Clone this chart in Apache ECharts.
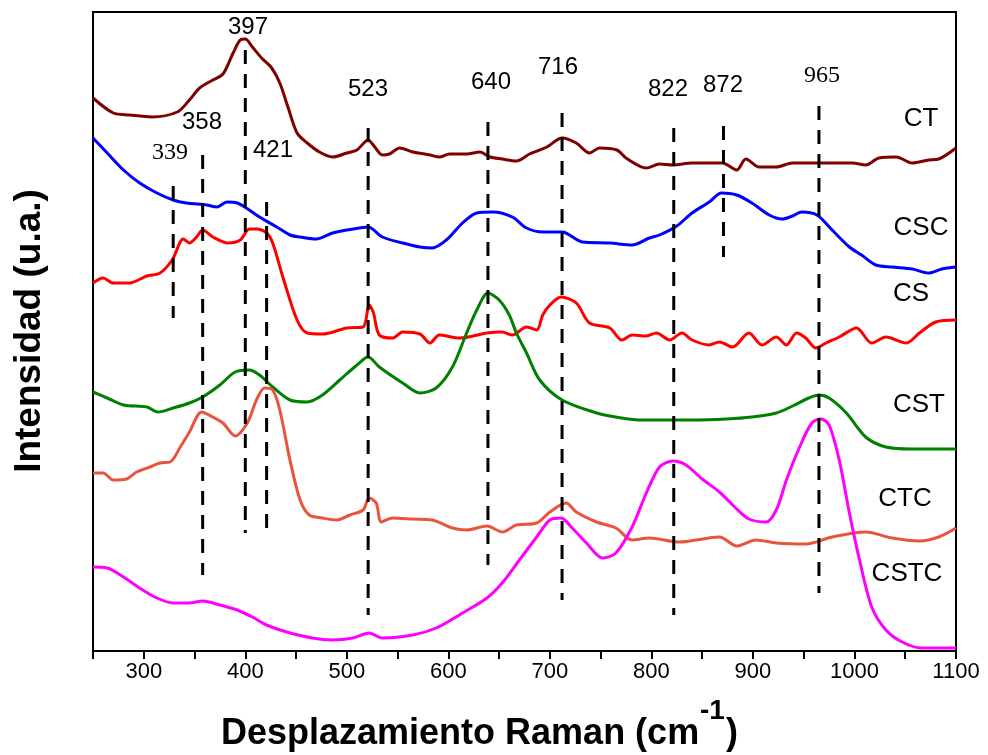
<!DOCTYPE html>
<html>
<head>
<meta charset="utf-8">
<style>html,body{margin:0;padding:0;background:#fff;}#c{width:988px;height:755px;}</style>
<script src="https://cdn.jsdelivr.net/npm/echarts@6/dist/echarts.min.js"></script>
</head>
<body>
<div id="c"></div>
<script>
// Raman shift (cm-1), intensity (a.u., stacked offsets)
var ctData = [[250,553],[270,538],[286,536],[308,534],[333,539],[345,551],[355,563],[368,571],[378,577],[388,598],[395,611],[400,612],[407,604],[416,593],[426,583],[434,568],[442,544],[451,518],[461,508],[473,499],[486,494],[500,498],[510,501],[521,511],[526,506],[532,498],[535,496],[542,497],[552,503],[565,499],[582,496],[591,494],[601,497],[618,497],[631,499],[641,494],[653,492],[667,490],[680,497],[697,504],[712,513],[726,508],[739,498],[749,503],[766,501],[775,493],[795,483],[808,487],[821,486],[840,488],[870,488],[884,481],[893,492],[906,484],[923,484],[939,488],[962,488],[978,488],[998,488],[1011,486],[1024,493],[1041,494],[1057,488],[1073,491],[1083,492],[1100,503]];
var cscData = [[250,513],[264,498],[280,481],[296,468],[313,458],[329,451],[342,448],[362,446],[372,444],[382,449],[392,448],[401,443],[414,434],[431,424],[444,416],[454,414],[470,412],[486,418],[506,422],[521,424],[535,414],[555,408],[572,404],[584,403],[598,411],[614,428],[628,438],[644,439],[663,434],[677,423],[693,419],[712,419],[732,409],[759,408],[781,406],[798,413],[808,416],[825,425],[840,438],[857,449],[869,458],[884,456],[899,448],[916,436],[929,432],[939,435],[948,439],[963,436],[978,421],[995,404],[1007,396],[1021,386],[1037,384],[1057,382],[1073,378],[1086,382],[1100,384]];
var csData = [[250,368],[260,373],[270,368],[286,368],[303,375],[316,378],[328,391],[339,412],[345,408],[352,414],[358,421],[368,414],[383,408],[395,411],[404,422],[411,422],[421,418],[427,408],[437,374],[451,331],[461,318],[476,317],[500,323],[516,324],[522,346],[526,339],[532,316],[545,313],[555,319],[572,317],[582,308],[591,316],[611,313],[638,318],[653,319],[663,316],[677,324],[687,321],[693,336],[700,346],[711,354],[726,348],[739,328],[759,323],[771,311],[781,316],[795,315],[805,318],[818,311],[830,318],[840,311],[857,306],[867,309],[880,304],[896,318],[909,306],[923,314],[933,306],[943,318],[952,313],[962,303],[972,308],[985,314],[1002,323],[1017,308],[1031,314],[1051,308],[1064,318],[1080,329],[1100,331]];
var cstData = [[250,259],[264,253],[280,246],[303,244],[314,239],[329,243],[345,248],[358,254],[375,266],[390,279],[404,281],[414,276],[427,264],[444,251],[461,249],[476,256],[493,271],[510,286],[521,294],[532,284],[555,268],[572,258],[588,263],[604,284],[618,318],[628,341],[639,358],[650,351],[660,336],[667,318],[677,298],[690,271],[712,251],[746,238],[765,234],[791,231],[818,231],[840,231],[874,232],[899,234],[923,238],[939,245],[955,253],[965,256],[975,253],[992,238],[1011,214],[1031,204],[1057,202],[1100,202]];
var ctcData = [[250,178],[260,178],[270,171],[283,172],[293,179],[306,184],[316,188],[326,189],[336,204],[345,219],[357,239],[368,234],[378,228],[390,215],[402,228],[411,251],[419,263],[427,261],[434,241],[444,191],[454,151],[463,136],[476,133],[490,131],[503,136],[516,141],[522,153],[529,148],[534,129],[545,133],[565,132],[584,131],[604,123],[618,121],[638,125],[653,119],[667,126],[687,128],[700,139],[716,148],[726,139],[746,129],[765,123],[781,111],[798,113],[827,109],[867,114],[884,105],[903,111],[923,108],[952,107],[978,114],[1011,119],[1037,113],[1064,110],[1083,114],[1100,123]];
var cstcData = [[250,84],[264,83],[280,74],[296,63],[313,53],[329,48],[345,48],[358,50],[375,46],[392,41],[407,34],[421,26],[441,19],[466,13],[486,11],[506,13],[522,18],[535,13],[565,16],[588,23],[614,38],[638,53],[653,68],[670,91],[687,114],[700,131],[711,133],[722,123],[736,108],[752,93],[765,98],[781,124],[795,158],[808,184],[821,190],[834,186],[850,172],[867,159],[883,143],[896,132],[913,129],[923,141],[933,171],[946,204],[958,228],[967,232],[975,226],[985,191],[995,138],[1005,91],[1017,44],[1031,21],[1047,9],[1066,3],[1100,3]];

var seriesNames = ['CT','CSC','CS','CST','CTC','CSTC'];
var seriesColors = ['#800000','#0000ff','#ff0000','#008000','#e8553c','#ff00ff'];
var seriesData = [ctData, cscData, csData, cstData, ctcData, cstcData];

// peak marker dashed lines: position, top and bottom (intensity units)
var peakX      = [329, 358, 400, 421, 521, 639, 712, 822, 871, 965];
var peakTop    = [465, 496, 601, 449, 523, 529, 538, 523, 525, 545];
var peakBottom = [333,  76, 118, 120,  36,  86,  51,  36, 394,  58];

var xTickLabels = [300,400,500,600,700,800,900,1000,1100];

var chart = echarts.init(document.getElementById('c'), null, {renderer:'canvas'});
var series = [];
for (var i = 0; i < seriesData.length; i++) {
  series.push({
    name: seriesNames[i], type: 'line', data: seriesData[i], showSymbol: false, symbol: 'none',
    smooth: 0.3, lineStyle: {color: seriesColors[i], width: 3}, silent: true, z: 3
  });
}
for (var j = 0; j < peakX.length; j++) {
  series.push({
    type: 'line', data: [[peakX[j], peakTop[j]], [peakX[j], peakBottom[j]]], symbol: 'none', silent: true, z: 4,
    lineStyle: {color: '#000', width: 3, type: [14, 10]}
  });
}

var sansFont = '"Liberation Sans", Arial, sans-serif';
var serifFont = '"Liberation Serif", "Times New Roman", serif';
function txt(s, x, y, size, font, extra) {
  var o = {type: 'text', x: x, y: y, silent: true, z: 10,
    style: {text: s, font: (extra||'') + ' ' + size + 'px ' + font, fill: '#000', textAlign: 'center', textVerticalAlign: 'middle'}};
  return o;
}
var graphics = [
  txt('397', 248, 27, 24, sansFont),
  txt('358', 202, 122, 24, sansFont),
  txt('339', 170, 153, 24, serifFont),
  txt('421', 273, 150, 24, sansFont),
  txt('523', 368, 89, 24, sansFont),
  txt('640', 491, 82, 24, sansFont),
  txt('716', 558, 67, 24, sansFont),
  txt('822', 668, 89, 24, sansFont),
  txt('872', 723, 85, 24, sansFont),
  txt('965', 822, 76, 24, serifFont),
  txt('CT', 921, 119, 26, sansFont),
  txt('CSC', 921, 228, 26, sansFont),
  txt('CS', 911, 294, 26, sansFont),
  txt('CST', 919, 405, 26, sansFont),
  txt('CTC', 905, 499, 26, sansFont),
  txt('CSTC', 907, 574, 26, sansFont),
  {type:'text', x: 221, y: 734, silent: true, style: {text: 'Desplazamiento Raman (cm', font: 'bold 36px ' + sansFont, fill: '#000', textAlign: 'left', textVerticalAlign: 'middle'}},
  {type:'text', x: 700, y: 711, silent: true, style: {text: '-1', font: 'bold 28px ' + sansFont, fill: '#000', textAlign: 'left', textVerticalAlign: 'middle'}},
  {type:'text', x: 726, y: 734, silent: true, style: {text: ')', font: 'bold 36px ' + sansFont, fill: '#000', textAlign: 'left', textVerticalAlign: 'middle'}},
  {type:'text', x: 30, y: 331, rotation: Math.PI/2, silent: true, style: {text: 'Intensidad (u.a.)', font: 'bold 37px ' + sansFont, fill: '#000', textAlign: 'center', textVerticalAlign: 'middle'}}
];

chart.setOption({
  animation: false,
  backgroundColor: '#fff',
  grid: {left: 93, right: 32, top: 12, bottom: 104, show: true, borderColor: '#000', borderWidth: 2, backgroundColor: 'transparent'},
  xAxis: {
    type: 'value', min: 250, max: 1100, interval: 50,
    axisLine: {show: true, lineStyle: {color: '#000', width: 2}},
    axisTick: {show: true, length: 8, lineStyle: {color: '#000', width: 2}},
    splitLine: {show: false},
    axisLabel: {color: '#000', fontSize: 22, fontFamily: sansFont, margin: 10,
      formatter: function (v) { return xTickLabels.indexOf(v) >= 0 ? String(v) : ''; }}
  },
  yAxis: {
    type: 'value', min: 0, max: 639,
    axisLine: {show: true, lineStyle: {color: '#000', width: 2}},
    axisTick: {show: false}, axisLabel: {show: false}, splitLine: {show: false}
  },
  series: series,
  graphic: graphics
});
</script>
</body>
</html>
